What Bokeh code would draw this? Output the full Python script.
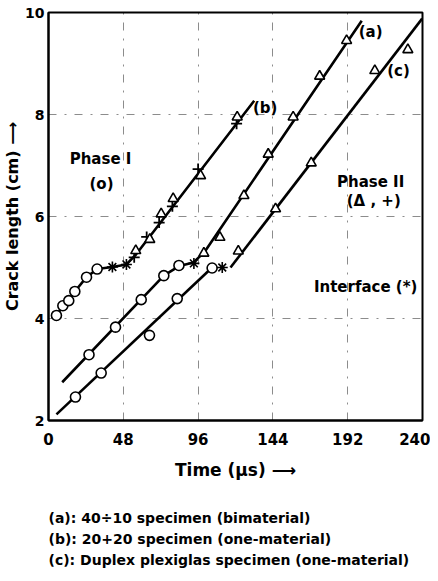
from bokeh.plotting import figure
from bokeh.models import Label, FixedTicker, Range1d, Title
from bokeh.embed import file_html
from bokeh.resources import INLINE

# ---- data (time in microseconds, crack length in cm) ----
# curve (a): 40÷10 specimen (bimaterial)
a_circle_t = [26, 43, 59.5, 74, 83.7]
a_circle_y = [3.29, 3.83, 4.37, 4.84, 5.04]
a_star_t = [93.3]
a_star_y = [5.08]
a_tri_t = [99.7, 110, 125.4, 141, 157, 174, 191.3]
a_tri_y = [5.28, 5.59, 6.41, 7.22, 7.95, 8.75, 9.45]
a_line_t = [8.8, 74, 84, 93, 100, 201]
a_line_y = [2.75, 4.84, 5.03, 5.1, 5.3, 9.84]

# curve (b): 20+20 specimen (one-material)
b_circle_t = [5.1, 9.2, 13, 16.9, 24.4, 31.2]
b_circle_y = [4.06, 4.25, 4.35, 4.53, 4.81, 4.97]
b_star_t = [41, 50]
b_star_y = [5.01, 5.06]
b_cross_t = [55, 63, 71, 79.5, 96, 120.7]
b_cross_y = [5.2, 5.6, 5.88, 6.2, 6.93, 7.82]
b_tri_t = [56, 65, 72.3, 80, 97.6, 121.1]
b_tri_y = [5.33, 5.55, 6.05, 6.35, 6.8, 7.95]
b_line_t = [5.1, 9.2, 13, 16.9, 24.4, 31.2, 41, 50, 56, 132]
b_line_y = [4.06, 4.25, 4.35, 4.53, 4.81, 4.97, 5.01, 5.06, 5.25, 8.27]

# curve (c): Duplex plexiglas specimen (one-material)
c_circle_t = [17.3, 33.8, 64.8, 82.6, 105]
c_circle_y = [2.46, 2.93, 3.67, 4.39, 4.99]
c_star_t = [111.5]
c_star_y = [5.0]
c_tri_t = [121.8, 145.7, 168.6, 209.4, 230.6]
c_tri_y = [5.32, 6.15, 7.05, 8.86, 9.27]
c_line1_t = [5.1, 105]
c_line1_y = [2.12, 5.0]
c_line2_t = [116.8, 239.8]
c_line2_y = [5.0, 9.88]

x_ticks = [0, 48, 96, 144, 192, 240]
y_ticks = [2, 4, 6, 8, 10]

captions = [
    "(a): 40\u00f710  specimen  (bimaterial)",
    "(b): 20+20  specimen  (one-material)",
    "(c): Duplex plexiglas specimen (one-material)",
]

FONT = "DejaVu Sans"

p = figure(width=430, height=573, output_backend="svg", toolbar_location=None,
           x_range=Range1d(0, 240), y_range=Range1d(2, 10),
           min_border_left=48, min_border_right=8, min_border_top=12,
           min_border_bottom=153)
p.outline_line_color = "black"
p.outline_line_width = 2
p.background_fill_color = "white"

for ax in (p.xaxis[0], p.yaxis[0]):
    ax.axis_line_width = 2
    ax.axis_line_color = "black"
    ax.major_tick_in = 0
    ax.major_tick_out = 0
    ax.minor_tick_in = 0
    ax.minor_tick_out = 0
    ax.major_label_text_font = FONT
    ax.major_label_text_font_style = "bold"
    ax.major_label_text_color = "black"
    ax.axis_label_text_font = FONT
    ax.axis_label_text_font_style = "bold"
    ax.axis_label_text_color = "black"

p.xaxis.major_label_text_font_size = "15px"
p.yaxis.major_label_text_font_size = "14px"
p.xaxis.axis_label_text_font_size = "17px"
p.yaxis.axis_label_text_font_size = "16px"

p.xaxis.ticker = FixedTicker(ticks=x_ticks)
p.yaxis.ticker = FixedTicker(ticks=y_ticks)
p.xaxis.major_label_standoff = 12
p.yaxis.major_label_standoff = 4
p.xaxis.axis_label = "Time (\u00b5s) \u27f6"
p.yaxis.axis_label = "Crack length (cm) \u27f6"
p.xaxis.axis_label_standoff = 12
p.yaxis.axis_label_standoff = 0

for g in (p.xgrid[0], p.ygrid[0]):
    g.grid_line_color = "black"
    g.grid_line_alpha = 0.45
    g.grid_line_width = 1
    g.grid_line_dash = "8 8 2 8"

LW = 2.6
p.line(a_line_t, a_line_y, line_color="black", line_width=LW)
p.line(b_line_t, b_line_y, line_color="black", line_width=LW)
p.line(c_line1_t, c_line1_y, line_color="black", line_width=LW)
p.line(c_line2_t, c_line2_y, line_color="black", line_width=LW)

def circles(t, y):
    p.scatter(t, y, marker="circle", size=10, fill_color="white",
              line_color="black", line_width=1.6)

def tris(t, y):
    p.scatter(t, y, marker="triangle", size=10, fill_color="white",
              line_color="black", line_width=1.6)

def stars(t, y):
    p.scatter(t, y, marker="asterisk", size=11, line_color="black", line_width=1.6)

def crosses(t, y):
    p.scatter(t, y, marker="cross", size=11, line_color="black", line_width=1.8)

circles(a_circle_t, a_circle_y)
stars(a_star_t, a_star_y)
tris(a_tri_t, a_tri_y)
circles(b_circle_t, b_circle_y)
stars(b_star_t, b_star_y)
crosses(b_cross_t, b_cross_y)
tris(b_tri_t, b_tri_y)
circles(c_circle_t, c_circle_y)
stars(c_star_t, c_star_y)
tris(c_tri_t, c_tri_y)

def lab(x, y, txt, size="15px", align="center"):
    p.add_layout(Label(x=x, y=y, text=txt, text_font=FONT, text_font_style="bold",
                       text_font_size=size, text_align=align,
                       text_baseline="middle", text_color="black"))

lab(206.7, 9.61, "(a)")
lab(139, 8.12, "(b)")
lab(224.6, 8.86, "(c)")
lab(33.4, 7.13, "Phase I")
lab(34, 6.64, "(o)")
lab(206.7, 6.67, "Phase II")
lab(208.7, 6.31, "(\u0394 , +)")
lab(203.5, 4.61, "Interface (*)")

# spacer between the axis title and the caption lines
p.add_layout(Title(text=" ", text_font_size="2px", standoff=20), "below")
for txt in captions:
    p.add_layout(Title(text=txt, align="left", text_font=FONT,
                       text_font_style="bold", text_font_size="14px",
                       text_color="black", standoff=3), "below")

open("out.html", "w").write(file_html(p, INLINE))
